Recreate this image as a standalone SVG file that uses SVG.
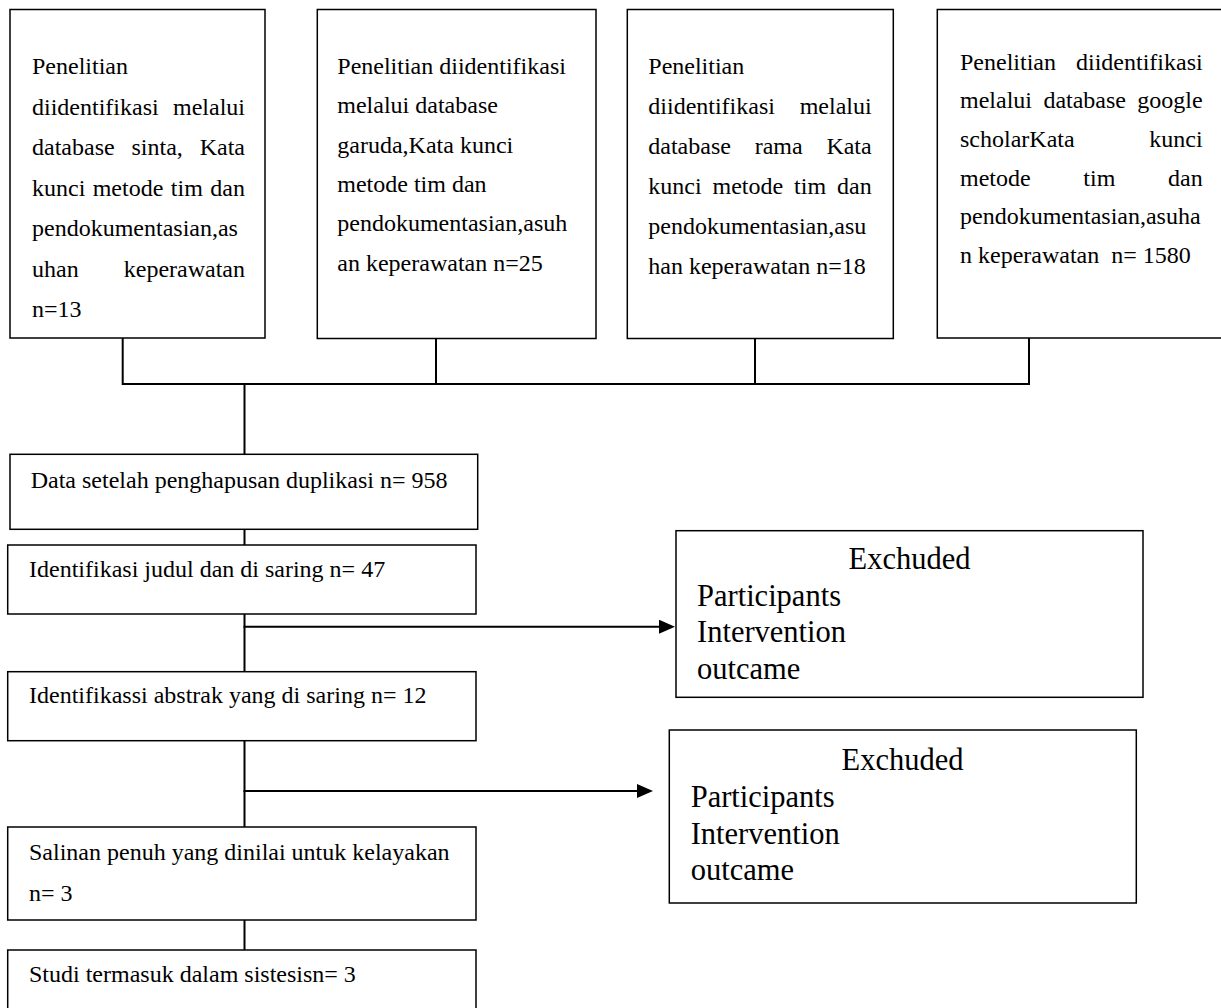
<svg xmlns="http://www.w3.org/2000/svg" width="1221" height="1008" viewBox="0 0 1221 1008">
<style>
.box{fill:#fff;stroke:#000;stroke-width:1.5}
.t{font-family:"Liberation Serif","Times New Roman",serif;font-size:24px;fill:#000}
.te{font-family:"Liberation Serif","Times New Roman",serif;font-size:30.5px;fill:#000}
.e{text-anchor:end}
.m{text-anchor:middle}
.c{fill:none;stroke:#000;stroke-width:2}
</style>
<defs>
<marker id="ah" viewBox="0 0 16 14" refX="6" refY="7" markerWidth="16" markerHeight="14" markerUnits="userSpaceOnUse" orient="auto">
<path d="M0,0 L16,7 L0,14 Z" fill="#000"/>
</marker>
</defs>
<rect width="1221" height="1008" fill="#fff"/>
<g id="connectors">
<path class="c" d="M122.7,338 V384 M436,338 V384 M755,338 V384 M1029,338 V384 M121.7,384 H1030"/>
<path class="c" d="M244.5,384 V454.3 M244.5,529.3 V545 M244.5,614 V671.7 M244.5,740.7 V827 M244.5,920 V950"/>
<path class="c" d="M243.5,626.7 H665" marker-end="url(#ah)"/>
<path class="c" d="M243.5,791 H643" marker-end="url(#ah)"/>
</g>
<g id="box-sinta">
<rect class="box" x="10" y="9.5" width="255" height="328.5"/>
<text class="t" x="32" y="74">Penelitian</text>
<text class="t" x="32" y="114.5">diidentifikasi</text><text class="t e" x="245" y="114.5">melalui</text>
<text class="t" x="32" y="155">database</text><text class="t" x="131.5" y="155">sinta,</text><text class="t e" x="245" y="155">Kata</text>
<text class="t" x="32" y="195.5">kunci</text><text class="t" x="92.7" y="195.5">metode</text><text class="t" x="170.8" y="195.5">tim</text><text class="t e" x="245" y="195.5">dan</text>
<text class="t" x="32" y="236">pendokumentasian,as</text>
<text class="t" x="32" y="276.5">uhan</text><text class="t e" x="245" y="276.5">keperawatan</text>
<text class="t" x="32" y="317">n=13</text>
</g>
<g id="box-garuda">
<rect class="box" x="317.3" y="9.5" width="278.7" height="329"/>
<text class="t" x="337.3" y="74">Penelitian diidentifikasi</text>
<text class="t" x="337.3" y="113.3">melalui database</text>
<text class="t" x="337.3" y="152.6">garuda,Kata kunci</text>
<text class="t" x="337.3" y="191.9">metode tim dan</text>
<text class="t" x="337.3" y="231.2">pendokumentasian,asuh</text>
<text class="t" x="337.3" y="270.5">an keperawatan n=25</text>
</g>
<g id="box-rama">
<rect class="box" x="627.3" y="9.5" width="266" height="329"/>
<text class="t" x="648.3" y="73.5">Penelitian</text>
<text class="t" x="648.3" y="113.5">diidentifikasi</text><text class="t e" x="871.7" y="113.5">melalui</text>
<text class="t" x="648.3" y="153.5">database</text><text class="t" x="754.7" y="153.5">rama</text><text class="t e" x="871.7" y="153.5">Kata</text>
<text class="t" x="648.3" y="193.5">kunci</text><text class="t" x="712.5" y="193.5">metode</text><text class="t" x="794.1" y="193.5">tim</text><text class="t e" x="871.7" y="193.5">dan</text>
<text class="t" x="648.3" y="233.5">pendokumentasian,asu</text>
<text class="t" x="648.3" y="273.5">han keperawatan n=18</text>
</g>
<g id="box-scholar">
<rect class="box" x="937.3" y="9.5" width="290" height="328.5"/>
<text class="t" x="960" y="69.5">Penelitian</text><text class="t e" x="1202.7" y="69.5">diidentifikasi</text>
<text class="t" x="960" y="108.2">melalui</text><text class="t" x="1043.4" y="108.2">database</text><text class="t e" x="1202.7" y="108.2">google</text>
<text class="t" x="960" y="146.9">scholarKata</text><text class="t e" x="1202.7" y="146.9">kunci</text>
<text class="t" x="960" y="185.6">metode</text><text class="t" x="1083.3" y="185.6">tim</text><text class="t e" x="1202.7" y="185.6">dan</text>
<text class="t" x="960" y="224.3">pendokumentasian,asuha</text>
<text class="t" x="960" y="263">n keperawatan&#160; n= 1580</text>
</g>
<g id="box-duplikasi">
<rect class="box" x="10" y="454.3" width="467.7" height="75"/>
<text class="t" x="30.7" y="487.7">Data setelah penghapusan duplikasi n= 958</text>
</g>
<g id="box-judul">
<rect class="box" x="7.7" y="545" width="468.3" height="69"/>
<text class="t" x="29" y="576.7">Identifikasi judul dan di saring n= 47</text>
</g>
<g id="box-abstrak">
<rect class="box" x="7.7" y="671.7" width="468.3" height="69"/>
<text class="t" x="29" y="703.3">Identifikassi abstrak yang di saring n= 12</text>
</g>
<g id="box-salinan">
<rect class="box" x="7.7" y="827" width="468.3" height="93"/>
<text class="t" x="29" y="860">Salinan penuh yang dinilai untuk kelayakan</text>
<text class="t" x="29" y="901">n= 3</text>
</g>
<g id="box-studi">
<rect class="box" x="7.7" y="950" width="468.3" height="70"/>
<text class="t" x="29" y="982">Studi termasuk dalam sistesisn= 3</text>
</g>
<g id="box-excluded-1">
<rect class="box" x="676" y="530.7" width="467" height="166.6"/>
<text class="te m" x="909.5" y="569">Exchuded</text>
<text class="te" x="697" y="605.5">Participants</text>
<text class="te" x="697" y="642">Intervention</text>
<text class="te" x="697" y="678.5">outcame</text>
</g>
<g id="box-excluded-2">
<rect class="box" x="669.3" y="730" width="467" height="173"/>
<text class="te m" x="902.5" y="770">Exchuded</text>
<text class="te" x="690.7" y="807">Participants</text>
<text class="te" x="690.7" y="843.5">Intervention</text>
<text class="te" x="690.7" y="880">outcame</text>
</g>
</svg>
